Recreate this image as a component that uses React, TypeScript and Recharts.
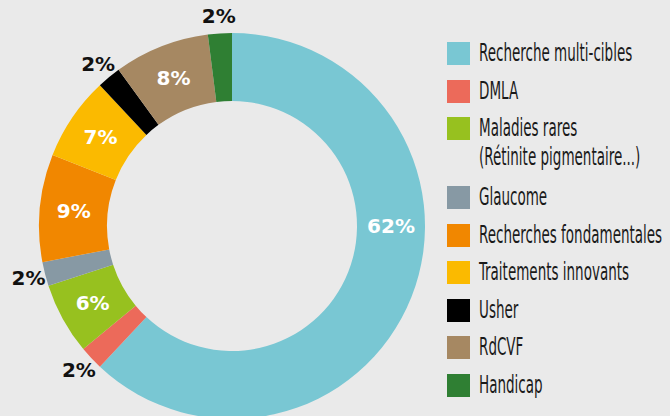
import React from "react";
import { PieChart, Pie, Cell, Legend } from "recharts";

// Répartition des financements (en %)
const names = [
  "Recherche multi-cibles",
  "DMLA",
  "Maladies rares\n(Rétinite pigmentaire...)",
  "Glaucome",
  "Recherches fondamentales",
  "Traitements innovants",
  "Usher",
  "RdCVF",
  "Handicap",
];
const values = [62, 2, 6, 2, 9, 7, 2, 8, 2];
const COLORS = [
  "#79C7D3",
  "#EC6A5A",
  "#97C11F",
  "#8799A4",
  "#F18700",
  "#FBBA00",
  "#000000",
  "#A68862",
  "#2F7F33",
];

const data = names.map((name, i) => ({ name, value: values[i] }));

const RADIAN = Math.PI / 180;

const renderLabel = ({ cx, cy, midAngle, innerRadius, outerRadius, value, index }: any) => {
  const small = value < 5;
  // le grand secteur a son étiquette à 3 heures
  const angle = index === 0 ? 0 : midAngle;
  const r = small ? outerRadius + 17 : (innerRadius + outerRadius) / 2;
  const x = cx + r * Math.cos(-angle * RADIAN);
  const y = cy + r * Math.sin(-angle * RADIAN);
  return (
    <text
      x={x}
      y={y}
      fill={small ? "#111" : "#fff"}
      textAnchor="middle"
      dominantBaseline="central"
      fontSize={20}
      fontWeight="bold"
      fontFamily="'DejaVu Sans', sans-serif"
    >
      {`${value}%`}
    </text>
  );
};

// légende dans l'ordre des données (pas de tri)
const renderLegend = () => (
  <div style={{ fontFamily: "'Liberation Sans Narrow', 'DejaVu Sans Condensed', sans-serif" }}>
    {names.map((name, i) => {
      const lines = name.split("\n");
      return (
        <div
          key={`leg-${i}`}
          style={{ display: "flex", alignItems: "flex-start", height: 37.5 + (lines.length - 1) * 31.5 }}
        >
          <span
            style={{
              display: "inline-block",
              width: 23,
              height: 23,
              background: COLORS[i],
              marginRight: 9,
              flexShrink: 0,
            }}
          />
          <span
            style={{
              fontSize: 24,
              lineHeight: "29px",
              color: "#1a1a1a",
              marginTop: -3,
              whiteSpace: "nowrap",
              display: "inline-block",
              transform: "scaleX(0.625)",
              transformOrigin: "left center",
            }}
          >
            {lines.map((l, j) => (
              <div key={j}>{l}</div>
            ))}
          </span>
        </div>
      );
    })}
  </div>
);

export default function App() {
  return (
    <div
      style={{
        position: "absolute",
        left: 0,
        top: 0,
        width: 670,
        height: 416,
        background: "#EAEAEA",
        overflow: "hidden",
      }}
    >
      <PieChart width={670} height={416} margin={{ top: 0, right: 0, bottom: 0, left: 0 }}>
        <Pie
          data={data}
          dataKey="value"
          nameKey="name"
          cx={232}
          cy={226}
          innerRadius={125}
          outerRadius={193}
          startAngle={90}
          endAngle={-270}
          stroke="none"
          label={renderLabel}
          labelLine={false}
          isAnimationActive={false}
        >
          {data.map((entry, index) => (
            <Cell key={`cell-${index}`} fill={COLORS[index % COLORS.length]} />
          ))}
        </Pie>
        <Legend
          layout="vertical"
          align="right"
          verticalAlign="top"
          content={renderLegend}
          wrapperStyle={{ left: 447, top: 42, right: "auto", width: 223 }}
        />
      </PieChart>
    </div>
  );
}
